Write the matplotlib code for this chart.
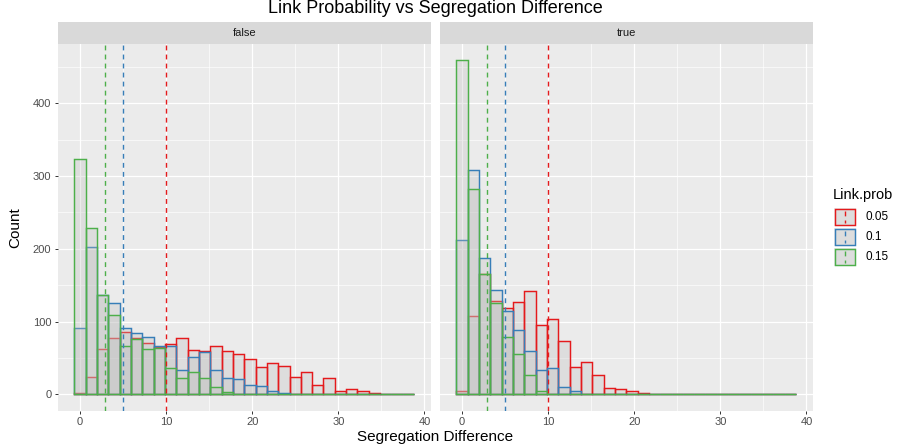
import matplotlib
matplotlib.use("Agg")
import matplotlib.pyplot as plt
from matplotlib.patches import Rectangle
from matplotlib.lines import Line2D
import numpy as np

# ---- data -------------------------------------------------------------
link_probs = ["0.05", "0.1", "0.15"]
colors = ["#E41A1C", "#377EB8", "#4DAF4A"]
panels = ["false", "true"]

bin_width = 1.315          # histogram bin width (30 bins)
n_bins = 30

# counts per bin, panel "false"
false_005 = [2, 24, 62, 78, 85, 77, 71, 65, 69, 77, 61, 60, 66, 59, 56,
             48, 38, 43, 39, 24, 31, 13, 22, 5, 7, 4, 2, 1, 0, 1]
false_010 = [91, 202, 137, 126, 91, 84, 79, 67, 66, 34, 51, 58, 33, 23, 21,
             13, 11, 4, 2, 1, 1, 1, 0, 0, 0, 0, 0, 0, 0, 0]
false_015 = [324, 229, 137, 109, 66, 76, 62, 63, 36, 23, 30, 22, 10, 3, 1,
             0, 0, 0, 0, 0, 0, 0, 0, 0, 0, 0, 0, 0, 0, 0]

# counts per bin, panel "true"
true_005 = [4, 107, 166, 128, 119, 127, 142, 95, 104, 73, 38, 44, 27, 9, 7,
            4, 2, 1, 0, 0, 0, 0, 0, 0, 0, 0, 0, 0, 0, 0]
true_010 = [212, 308, 188, 143, 115, 88, 60, 33, 36, 10, 5, 0, 0, 0, 0,
            0, 0, 0, 0, 0, 0, 0, 0, 0, 0, 0, 0, 0, 0, 0]
true_015 = [459, 282, 166, 125, 79, 56, 27, 5, 0, 0, 0, 0, 0, 0, 0,
            0, 0, 0, 0, 0, 0, 0, 0, 0, 0, 0, 0, 0, 0, 0]

# group reference lines (x positions)
ref_lines = [10.0, 5.0, 2.9]

x_ticks = [0, 10, 20, 30, 40]
y_ticks = [0, 100, 200, 300, 400]

counts = {
    "false": [false_005, false_010, false_015],
    "true": [true_005, true_010, true_015],
}

plt.rcParams["font.family"] = ["Liberation Sans", "DejaVu Sans"]

# ---- figure -----------------------------------------------------------
W, H = 898, 448
fig = plt.figure(figsize=(W / 100, H / 100), dpi=100)
fig.patch.set_facecolor("white")

centers = np.arange(n_bins) * bin_width
lo = centers[0] - bin_width / 2
hi = centers[-1] + bin_width / 2
xpad = (hi - lo) * 0.05
ymax = max(max(v) for grp in counts.values() for v in grp)
ypad = ymax * 0.05

panel_left = [57.5, 439.5]
panel_w = 373.5
panel_top, panel_bot = 43.7, 411.0
strip_top = 22.0
bar_fill = (0.745, 0.745, 0.745, 0.3)
dash = (0, (3.5, 3.0))


def fx(px):
    return px / W


def fy(py):
    return 1 - py / H


for i, name in enumerate(panels):
    ax = fig.add_axes([fx(panel_left[i]), fy(panel_bot),
                       panel_w / W, (panel_bot - panel_top) / H])
    ax.set_facecolor("#EBEBEB")
    for s in ax.spines.values():
        s.set_visible(False)
    ax.set_xlim(lo - xpad, hi + xpad)
    ax.set_ylim(-ypad, ymax + ypad)

    ax.set_xticks(x_ticks)
    ax.set_xticks([5, 15, 25, 35], minor=True)
    ax.set_yticks(y_ticks)
    ax.set_yticks([50, 150, 250, 350, 450], minor=True)
    ax.grid(True, which="major", color="white", lw=0.9)
    ax.grid(True, which="minor", color="white", lw=0.45)
    ax.set_axisbelow(True)
    ax.tick_params(which="minor", length=0)
    ax.tick_params(which="major", length=2.5, width=0.7, color="#333333",
                   labelcolor="#4D4D4D", labelsize=8, pad=2)
    if i == 1:
        ax.tick_params(axis="y", which="major", length=0, labelleft=False)

    for vals, col in zip(counts[name], colors):
        ax.bar(centers, vals, width=bin_width, align="center",
               facecolor=bar_fill, edgecolor=col, linewidth=1.05, zorder=2)
    for xv, col in zip(ref_lines, colors):
        ax.axvline(xv, color=col, lw=1.0, linestyle=dash, zorder=3)

    # facet strip
    sax = fig.add_axes([fx(panel_left[i]), fy(panel_top),
                        panel_w / W, (panel_top - strip_top) / H])
    sax.set_facecolor("#D9D9D9")
    sax.set_xticks([])
    sax.set_yticks([])
    for s in sax.spines.values():
        s.set_visible(False)
    sax.text(0.5, 0.5, name, ha="center", va="center", fontsize=8,
             color="#1A1A1A", transform=sax.transAxes)

# titles
mid = (panel_left[0] + panel_left[1] + panel_w) / 2
fig.text(fx(mid), fy(8.5), "Link Probability vs Segregation Difference",
         ha="center", va="center", fontsize=13, color="black")
fig.text(fx(mid), fy(437), "Segregation Difference", ha="center", va="center",
         fontsize=11, color="black")
fig.text(fx(15), fy((panel_top + panel_bot) / 2), "Count", ha="center",
         va="center", rotation=90, fontsize=11, color="black")

# legend
fig.text(fx(832.5), fy(195), "Link.prob", ha="left", va="center",
         fontsize=10.5, color="black")
key_w, key_h, key_step = 22.5, 18.0, 20.3
for j, (lab, col) in enumerate(zip(link_probs, colors)):
    ktop = 207.7 + j * key_step
    fig.add_artist(Rectangle((fx(833.5), fy(ktop + key_h)), key_w / W, key_h / H,
                             facecolor="#EBEBEB", edgecolor="none",
                             transform=fig.transFigure))
    fig.add_artist(Rectangle((fx(834.5), fy(ktop + key_h - 1)), (key_w - 2) / W,
                             (key_h - 2) / H, facecolor=bar_fill, edgecolor=col,
                             lw=1.05, transform=fig.transFigure))
    kx = 833.5 + key_w / 2
    fig.add_artist(Line2D([fx(kx), fx(kx)], [fy(ktop + 3), fy(ktop + key_h - 3)],
                          color=col, lw=1.0, linestyle=dash,
                          transform=fig.transFigure))
    fig.text(fx(865), fy(ktop + key_h / 2), lab, ha="left", va="center",
             fontsize=8.5, color="black")

fig.savefig("out.png", dpi=100)
